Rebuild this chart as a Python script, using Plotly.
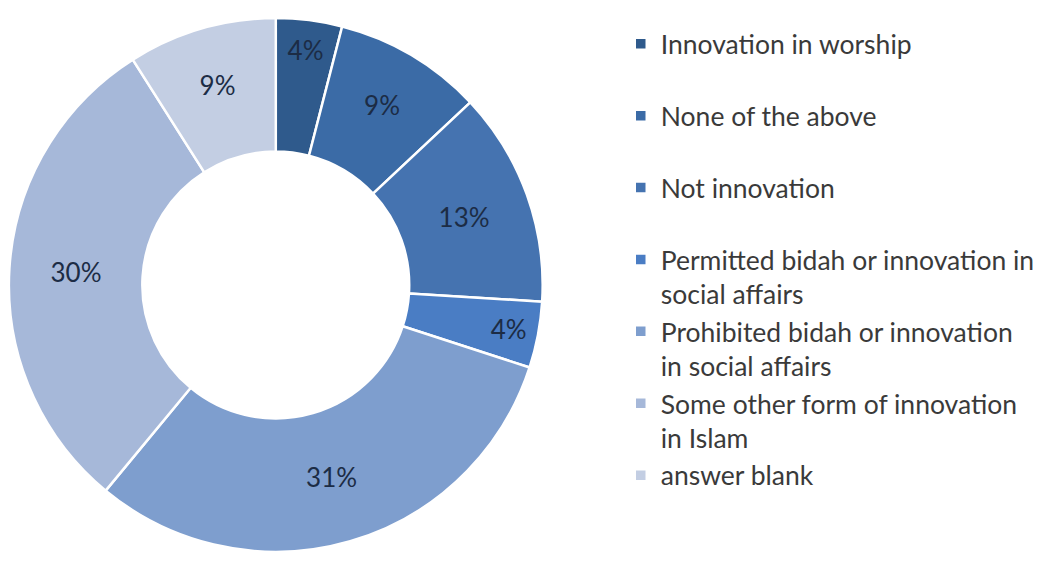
import plotly.graph_objects as go

# Survey answers (percent of respondents)
categories = [
    "Innovation in worship",
    "None of the above",
    "Not innovation",
    "Permitted bidah or innovation in social affairs",
    "Prohibited bidah or innovation in social affairs",
    "Some other form of innovation in Islam",
    "answer blank",
]
percentages = [4, 9, 13, 4, 31, 30, 9]

# Legend text, wrapped the way the legend box shows it
legend_labels = [
    "Innovation in worship<br> ",
    "None of the above<br> ",
    "Not innovation<br> ",
    "Permitted bidah or innovation in<br>social affairs",
    "Prohibited bidah or innovation<br>in social affairs",
    "Some other form of innovation<br>in Islam",
    "answer blank",
]

slice_colors = [
    "#2F5A8C",
    "#3B6BA6",
    "#4573B0",
    "#4A7DC4",
    "#7E9ECE",
    "#A6B8D9",
    "#C3CEE3",
]

W, H = 1040, 567

fig = go.Figure(
    go.Pie(
        labels=legend_labels,
        values=percentages,
        customdata=categories,
        hole=0.5,
        sort=False,
        direction="clockwise",
        rotation=0,
        marker=dict(colors=slice_colors, line=dict(color="#FFFFFF", width=2.5)),
        texttemplate="%{value}%",
        hovertemplate="%{customdata}: %{value}%<extra></extra>",
        textposition="inside",
        insidetextorientation="horizontal",
        textfont=dict(family="Lato, sans-serif", size=26, color="#1C2C45"),
        domain=dict(x=[9 / W, 549 / W], y=[12 / H, 552 / H]),
    )
)

fig.update_layout(
    width=W,
    height=H,
    margin=dict(l=0, r=0, t=0, b=0),
    paper_bgcolor="#FFFFFF",
    plot_bgcolor="#FFFFFF",
    uniformtext=dict(minsize=26, mode="show"),
    showlegend=True,
    legend=dict(
        x=628 / W,
        y=1 - 20 / H,
        xanchor="left",
        yanchor="top",
        valign="top",
        font=dict(family="Lato, sans-serif", size=26.5, color="#3A3A3A"),
        bgcolor="rgba(0,0,0,0)",
        traceorder="normal",
    ),
)

fig.write_html("out.html")
